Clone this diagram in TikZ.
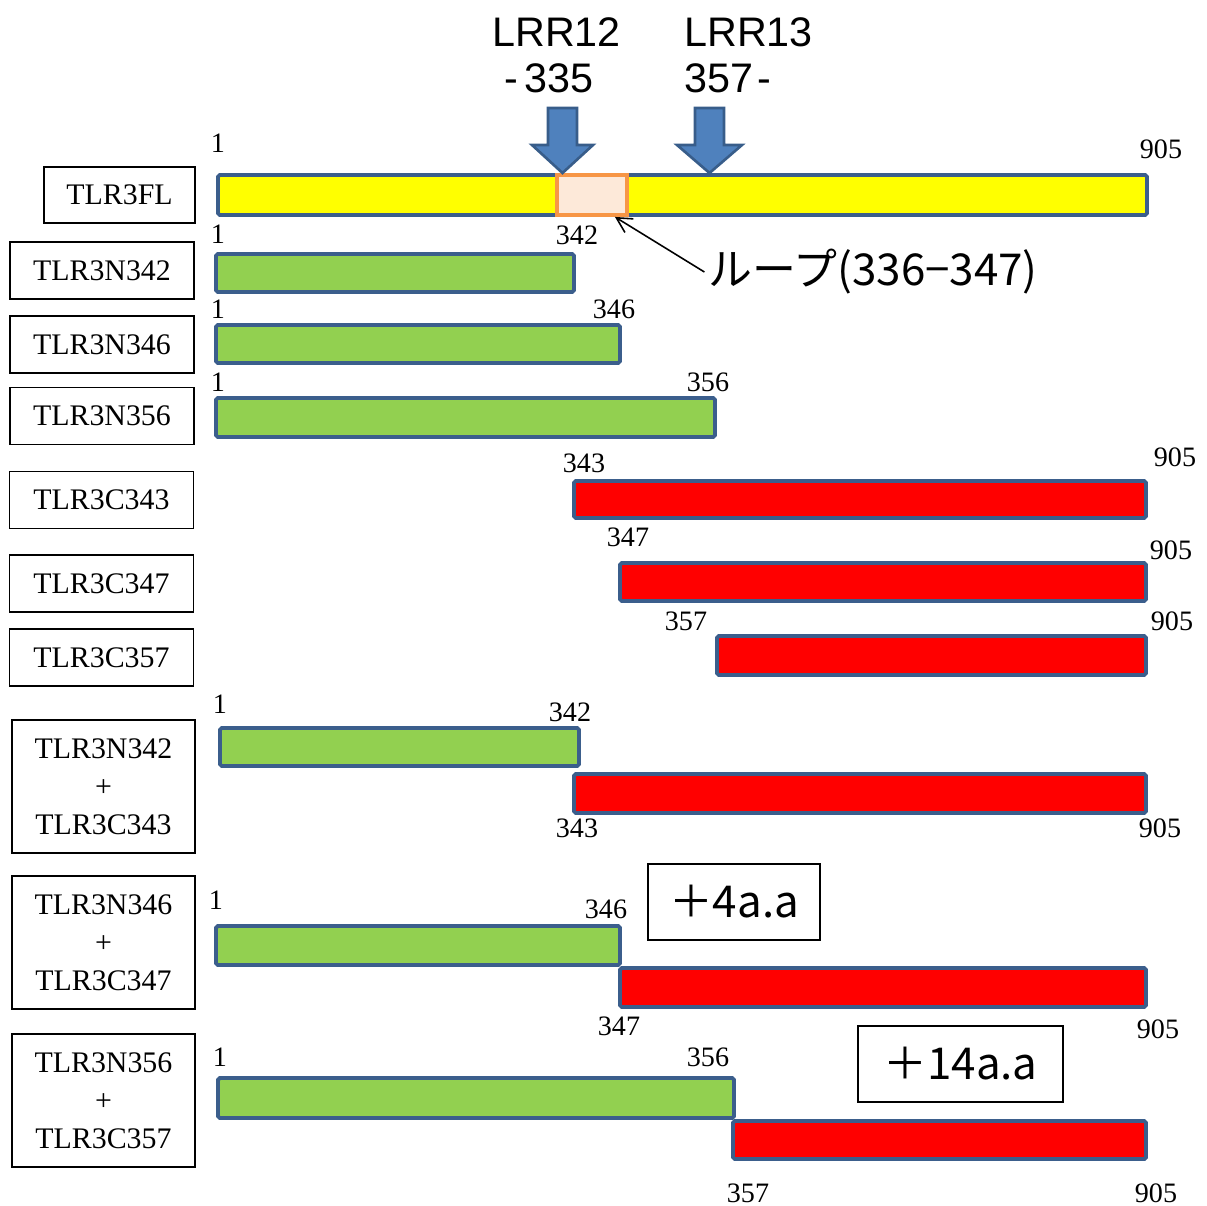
\documentclass[tikz,border=0pt]{standalone}
\usepackage{fontspec}
\setmainfont{Liberation Serif}
\newfontfamily\jpfont{Noto Sans CJK JP}
\newfontfamily\lrrfont{Liberation Sans}
\usepackage{tikz}
\usetikzlibrary{arrows.meta,fit}
\definecolor{tlEdge}{HTML}{3B5E8C}
\definecolor{tlYellow}{HTML}{FFFF00}
\definecolor{tlGreen}{HTML}{92D050}
\definecolor{tlRed}{HTML}{FF0000}
\definecolor{tlOrange}{HTML}{F79646}
\definecolor{tlPeach}{HTML}{FDE9D9}
\definecolor{tlArrow}{HTML}{4F81BD}
\definecolor{tlArrowEdge}{HTML}{385D8A}
\tikzset{
  construct box/.style={draw=black,line width=1.1pt,minimum width=3.68cm,minimum height=1.14cm,
    inner sep=2pt,font=\fontsize{17}{20}\selectfont},
  pair box/.style={construct box,minimum width=3.66cm,minimum height=2.66cm,align=center,
    font=\fontsize{17}{21.5}\selectfont},
  seg bar/.style={draw=tlEdge,line width=2.2pt,inner sep=0pt,rounded corners=1pt},
  full bar/.style={seg bar,fill=tlYellow},
  n bar/.style={seg bar,fill=tlGreen},
  c bar/.style={seg bar,fill=tlRed},
  loop box/.style={draw=tlOrange,line width=2.2pt,fill=tlPeach,inner sep=0pt},
  residue/.style={inner sep=0pt,font=\fontsize{16}{16}\selectfont},
  gain box/.style={draw=black,line width=1.1pt,minimum height=1.52cm,
    font=\jpfont\fontsize{25}{25}\selectfont},
  lrr label/.style={inner sep=0pt,align=left,anchor=west,font=\lrrfont\fontsize{23.5}{26}\selectfont},
  lrr arrow/.style={draw=tlArrowEdge,fill=tlArrow,line width=1.5pt},
  loop pointer/.style={-{Straight Barb[length=3mm,width=3.2mm]},line width=0.9pt}
}

\begin{document}
\begin{tikzpicture}[x=0.02cm,y=-0.02cm]
\useasboundingbox (0,0) rectangle (1207,1206);

% construct names
\node[construct box,minimum width=3.02cm,minimum height=1.12cm] (lfl) at (119.5,195) {TLR3FL};
\node[construct box] (ln342) at (102,270.5) {TLR3N342};
\node[construct box] (ln346) at (102,344.5) {TLR3N346};
\node[construct box] (ln356) at (102,416) {TLR3N356};
\node[construct box] (lc343) at (101.5,500) {TLR3C343};
\node[construct box] (lc347) at (101.5,583.5) {TLR3C347};
\node[construct box] (lc357) at (101.5,657.5) {TLR3C357};
\node[pair box] (lp1) at (103.5,786.5) {TLR3N342\\+\\TLR3C343};
\node[pair box] (lp2) at (103.5,942.5) {TLR3N346\\+\\TLR3C347};
\node[pair box] (lp3) at (103.5,1100.5) {TLR3N356\\+\\TLR3C357};

% full length receptor with the loop
\node[full bar,fit={(218,175) (1147,215)}] (fl) {};
\node[loop box,fit={(557,175) (627,215)}] (loop) {};
\node[residue] (fl1) at (218,143) {1};
\node[residue] (fl905) at (1161,149) {905};

% LRR markers
\node[lrr label] (lrr12) at (492,55) {LRR12\\\hspace{0.24cm}-\hspace{0.12cm}335};
\node[lrr label] (lrr13) at (684,55) {LRR13\\357\hspace{0.08cm}-};
\draw[lrr arrow] (548,108) -- (577,108) -- (577,145) -- (593,145) -- (562.5,173)
  -- (532,145) -- (548,145) -- cycle;
\draw[lrr arrow] (695,108) -- (724,108) -- (724,145) -- (742,145) -- (709.5,173)
  -- (677,145) -- (695,145) -- cycle;

\node[inner sep=2pt,font=\jpfont\fontsize{25}{25}\selectfont] (looplbl) at (873,272) {ループ(336−347)};
\draw[loop pointer] (looplbl.west) -- ([xshift=-0.28cm]loop.south east);

% N-terminal fragments
\node[n bar,fit={(216,254) (574,292)}] (n342) {};
\node[residue] (n342a) at (218,234) {1};
\node[residue] (n342b) at (577,235) {342};
\node[n bar,fit={(216,325) (620,363)}] (n346) {};
\node[residue] (n346a) at (218,309) {1};
\node[residue] (n346b) at (614,309) {346};
\node[n bar,fit={(216,398) (715,437)}] (n356) {};
\node[residue] (n356a) at (218,382) {1};
\node[residue] (n356b) at (708,382) {356};

% C-terminal fragments
\node[c bar,fit={(574,481) (1146,518)}] (c343) {};
\node[residue] (c343a) at (584,463) {343};
\node[residue] (c343b) at (1175,457) {905};
\node[c bar,fit={(620,563) (1146,601)}] (c347) {};
\node[residue] (c347a) at (628,537) {347};
\node[residue] (c347b) at (1171,550) {905};
\node[c bar,fit={(717,636) (1146,675)}] (c357) {};
\node[residue] (c357a) at (686,621) {357};
\node[residue] (c357b) at (1172,621) {905};

% co-expressed pairs
\node[n bar,fit={(220,728) (579,766)}] (p1n) {};
\node[c bar,fit={(574,774) (1146,813)}] (p1c) {};
\node[residue] (p1a) at (220,704) {1};
\node[residue] (p1b) at (570,712) {342};
\node[residue] (p1c1) at (577,828) {343};
\node[residue] (p1d) at (1160,828) {905};

\node[n bar,fit={(216,926) (620,965)}] (p2n) {};
\node[c bar,fit={(620,968) (1146,1007)}] (p2c) {};
\node[residue] (p2a) at (216,900) {1};
\node[residue] (p2b) at (606,909) {346};
\node[residue] (p2c1) at (619,1026) {347};
\node[residue] (p2d) at (1158,1029) {905};
\node[gain box,minimum width=3.44cm] (gain4) at (734,902) {＋4a.a};

\node[n bar,fit={(218,1078) (734,1118)}] (p3n) {};
\node[c bar,fit={(733,1121) (1146,1159)}] (p3c) {};
\node[residue] (p3a) at (220,1057) {1};
\node[residue] (p3b) at (708,1057) {356};
\node[residue] (p3c1) at (748,1193) {357};
\node[residue] (p3d) at (1156,1193) {905};
\node[gain box,minimum width=4.1cm] (gain14) at (960.5,1064) {＋14a.a};
\end{tikzpicture}
\end{document}
